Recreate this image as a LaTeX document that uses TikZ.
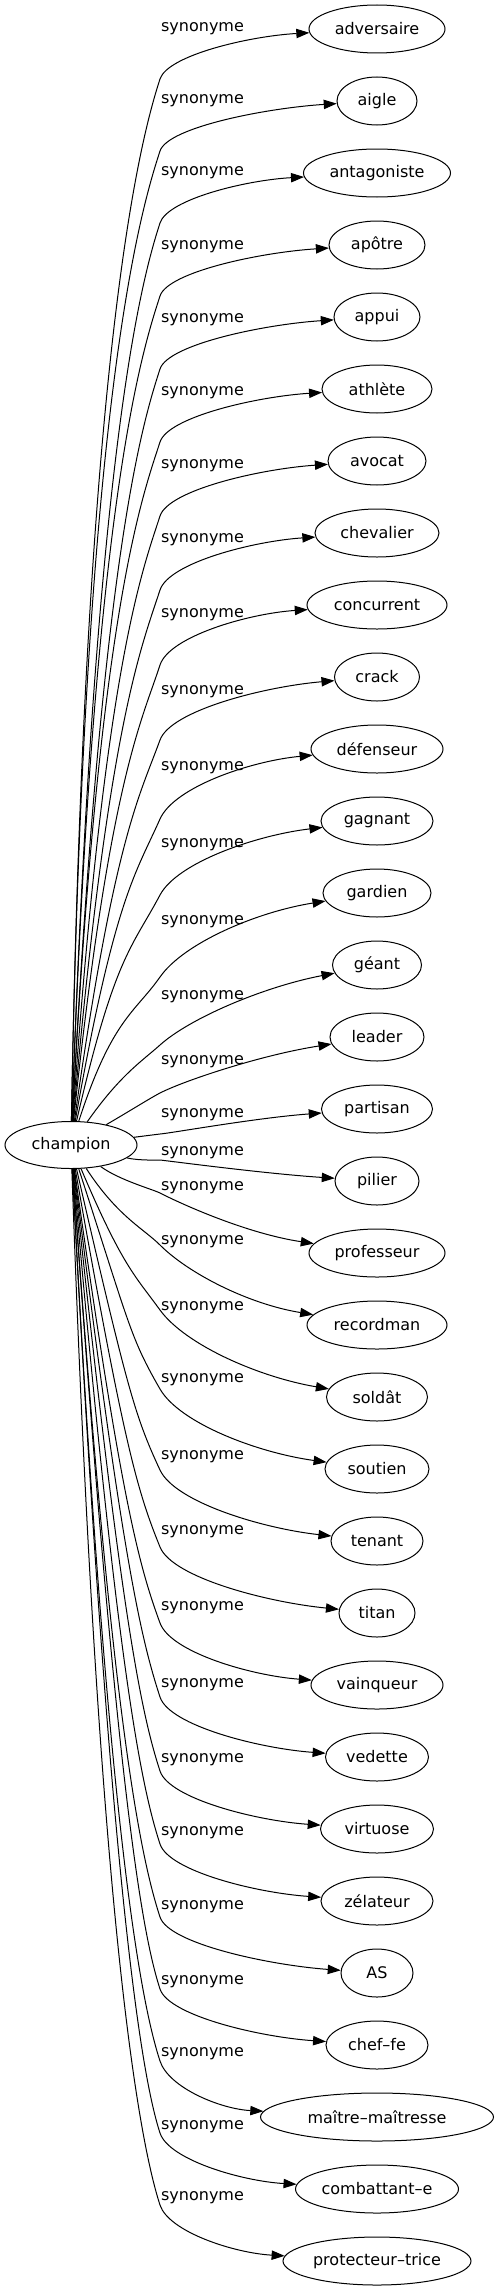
\documentclass[tikz,border=0pt]{standalone}
\usepackage{fontspec}
\setmainfont{DejaVu Sans}
\usetikzlibrary{arrows.meta,shapes.geometric}

\tikzset{
  >={Triangle[length=9.75pt,width=7pt]},
  hub/.style={ellipse, draw, inner sep=1pt, minimum width=99pt, minimum height=35.25pt},
  word/.style={ellipse, draw, inner sep=1pt, minimum width=#1*0.75pt, minimum height=36pt},
  link/.style={->},
}

\begin{document}
\begin{tikzpicture}[
    x=0.75pt, y=-0.75pt,
    line width=0.75pt,
    font=\fontsize{12}{14}\selectfont
    ]

  \useasboundingbox (0,0) rectangle (499,2291);

  %centre
  \node[hub] (champion) at (71,1145) {champion};

  %synonyms: key/text/width/start angle/bend offset/bend angle/label y
  \foreach \key/\txt/\w/\a/\o/\t/\yl [count=\i from 0] in {
      adversaire/adversaire/136/89/50/72/29,
      aigle/aigle/80/89/50/72/101,
      antagoniste/antagoniste/147/88/50/72/173,
      apotre/apôtre/96/88/51/72/247,
      appui/appui/86/87/52/72/320,
      athlete/athlète/110/87/53/72/393,
      avocat/avocat/98/86/55/72/466,
      chevalier/chevalier/124/85/57/72/540,
      concurrent/concurrent/140/84/60/72/615,
      crack/crack/85/82/63/70/692,
      defenseur/défenseur/132/80/70/66/768,
      gagnant/gagnant/112/77/74/62/845,
      gardien/gardien/108/72/84/55/922,
      geant/géant/89/55/80/42/997,
      leader/leader/94/30/56/27/1062,
      partisan/partisan/111/7/25/5/1115,
      pilier/pilier/84/347/21/6/1153,
      professeur/professeur/136/324/60/27/1188,
      recordman/recordman/140/303/80/45/1242,
      soldat/soldât/101/293/87/54/1308,
      soutien/soutien/104/288/80/60/1380,
      tenant/tenant/92/283/71/65/1457,
      titan/titan/76/280/66/68/1532,
      vainqueur/vainqueur/132/278/62/70/1608,
      vedette/vedette/103/277/60/72/1685,
      virtuose/virtuose/113/276/58/72/1760,
      zelateur/zélateur/112/275/57/72/1833,
      as/AS/72/274/56/72/1907,
      chef/chef–fe/102/274/56/72/1982,
      maitre/maître–maîtresse/233/273/56/72/2054,
      combattant/combattant–e/163/273/56/72/2127,
      protecteur/protecteur–trice/188/272/56/72/2198}
  {
    \pgfmathsetmacro{\sg}{\i<16 ? 1 : -1}
    \pgfmathsetmacro{\yt}{29+72*\i}
    \pgfmathsetmacro{\wy}{\yt+\sg*\o}
    % start on the border of champion
    \pgfmathsetmacro{\r}{1551/sqrt((23.5*cos(\a))^2+(66*sin(\a))^2)}
    \pgfmathsetmacro{\sx}{71+\r*cos(\a)}
    \pgfmathsetmacro{\sy}{1145-\r*sin(\a)}
    \pgfmathsetmacro{\dy}{abs(\sy-\wy)}
    \pgfmathsetmacro{\la}{max(0.75*\dy,0.4*(160-\sx))}
    \pgfmathsetmacro{\lb}{min(60,0.3*\dy)}
    \pgfmathsetmacro{\lc}{0.5*\o}
    \pgfmathsetmacro{\xw}{377-\w/2}
    \pgfmathsetmacro{\cax}{\sx+\la*cos(\a)}
    \pgfmathsetmacro{\cay}{\sy-\la*sin(\a)}
    \pgfmathsetmacro{\cbx}{160-\lb*cos(\t)}
    \pgfmathsetmacro{\cby}{\wy+\sg*\lb*sin(\t)}
    \pgfmathsetmacro{\ccx}{160+\lc*cos(\t)}
    \pgfmathsetmacro{\ccy}{\wy-\sg*\lc*sin(\t)}
    \pgfmathsetmacro{\cdx}{\xw-0.4*(\xw-160)}
    \pgfmathsetmacro{\cdy}{\yt+\sg*\o*(0.05+0.3*cos(\t))}

    \node[word=\w] (\key) at (377,\yt) {\txt};
    \node (lab\i) at (202.5,\yl) {synonyme};
    \draw[link] (champion.\a) .. controls (\cax,\cay) and (\cbx,\cby) .. (160,\wy)
        .. controls (\ccx,\ccy) and (\cdx,\cdy) .. (\key);
  }

\end{tikzpicture}
\end{document}
